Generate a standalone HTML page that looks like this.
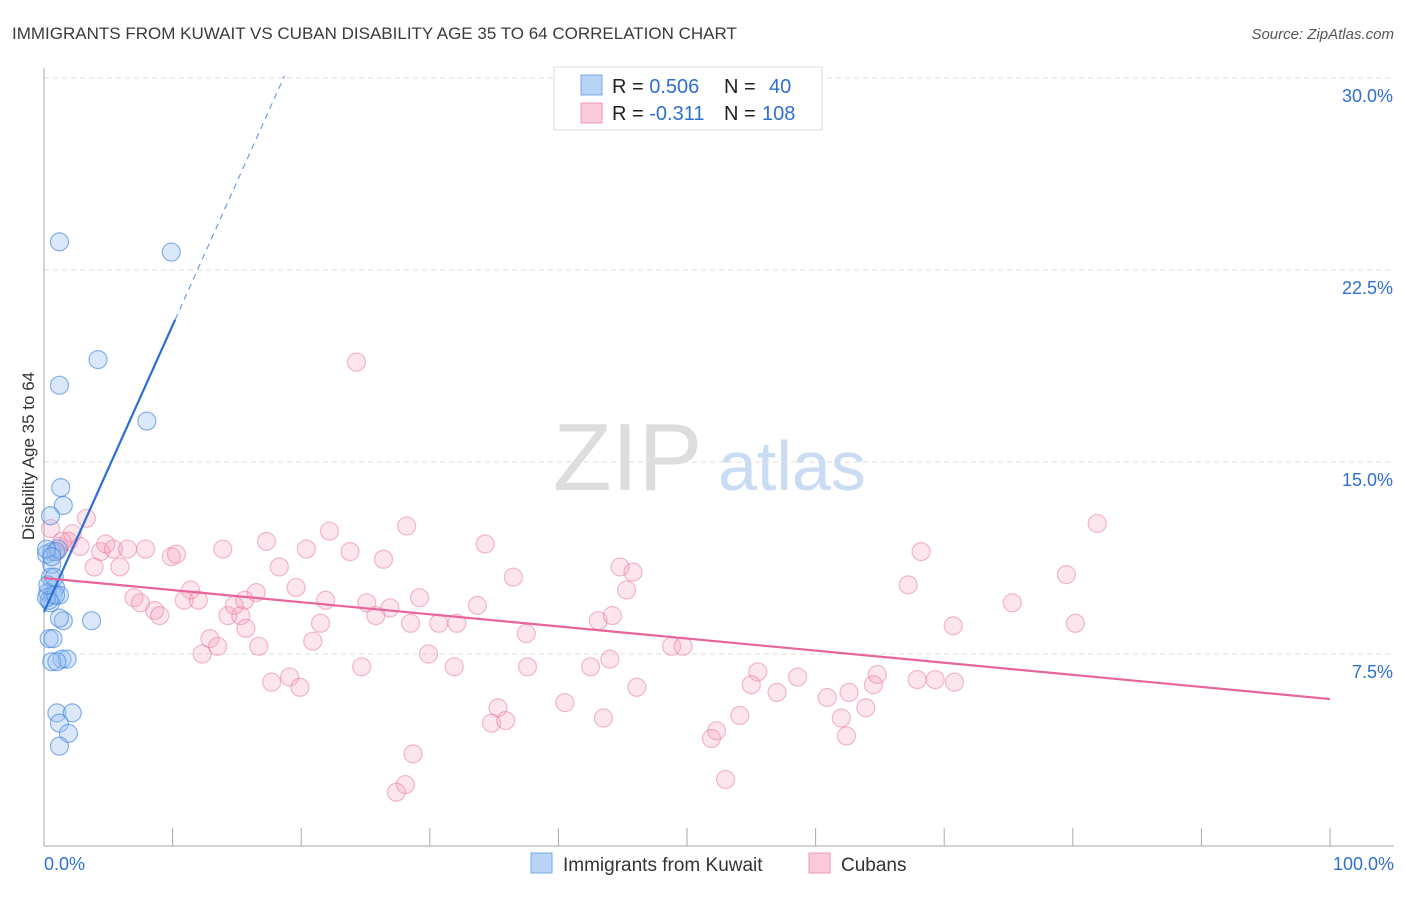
<!DOCTYPE html>
<html><head><meta charset="utf-8"><style>
body{margin:0;background:#fff;font-family:"Liberation Sans",sans-serif}
svg text{font-family:"Liberation Sans",sans-serif}
</style></head><body>
<svg id="c" width="1406" height="892" xmlns="http://www.w3.org/2000/svg">
<text x="12" y="39" font-size="17" fill="#3a3a3a">IMMIGRANTS FROM KUWAIT VS CUBAN DISABILITY AGE 35 TO 64 CORRELATION CHART</text>
<text x="1394" y="39" font-size="15" fill="#555" font-style="italic" text-anchor="end">Source: ZipAtlas.com</text>
<text x="34" y="456" font-size="17" fill="#333" text-anchor="middle" transform="rotate(-90 34 456)">Disability Age 35 to 64</text>
<g><text x="553" y="490" font-size="96" fill="#ddd" font-family="Liberation Serif,serif">ZIP</text><text x="718" y="490" font-size="70" fill="#c9dcf3">atlas</text></g>
<g id="grid"></g><g id="pts"></g><g id="lines"></g>
<g>
<rect x="554" y="67" width="268" height="63" fill="#fff" stroke="#ddd"/>
<rect x="581" y="75" width="21" height="20" fill="#b7d3f5" stroke="#7aa9e6"/>
<rect x="581" y="103" width="21" height="20" fill="#fbcad8" stroke="#ee9ab4"/>
<text x="612" y="93" font-size="20" fill="#222">R = <tspan fill="#2f6fd1">0.506</tspan><tspan x="724">N =</tspan><tspan x="769" fill="#2f6fd1">40</tspan></text>
<text x="612" y="120" font-size="20" fill="#222">R = <tspan fill="#2f6fd1">-0.311</tspan><tspan x="724">N =</tspan><tspan x="762" fill="#2f6fd1">108</tspan></text>
</g>
<g>
<rect x="531" y="853" width="21" height="20" fill="#b7d3f5" stroke="#7aa9e6"/>
<text x="563" y="871" font-size="19" fill="#333">Immigrants from Kuwait</text>
<rect x="809" y="853" width="21" height="20" fill="#fbcad8" stroke="#ee9ab4"/>
<text x="841" y="871" font-size="19" fill="#333">Cubans</text>
</g>
<text x="44" y="870" font-size="18" fill="#2f6fd1">0.0%</text>
<text x="1394" y="870" font-size="18" fill="#2f6fd1" text-anchor="end">100.0%</text>
</svg>
<script>
const yTicks=[7.5,15,22.5,30];
const yTickLabels=["7.5%","15.0%","22.5%","30.0%"];
const kuwaitX=[1.2,9.9,4.2,1.2,8.0,1.3,1.5,0.5,0.6,0.2,0.9,0.6,0.5,0.9,0.3,0.7,1.2,0.5,1.5,3.7,1.2,0.4,0.7,1.4,1.8,0.6,1.0,1.0,2.2,1.2,1.9,1.2,0.4,0.2,0.9,0.3,0.8,1.1,0.2,0.6];
const kuwaitY=[23.6,23.2,19.0,18.0,16.6,14.0,13.3,12.9,11.5,11.4,11.5,11.0,10.5,10.1,9.9,9.8,9.8,9.5,8.8,8.8,8.9,8.1,8.1,7.3,7.3,7.2,7.2,5.2,5.2,4.8,4.4,3.9,9.6,9.7,9.8,10.2,10.5,11.6,11.6,11.3];
const cubanX=[0.5,3.3,2.2,1.9,1.2,1.0,1.4,2.8,4.4,4.8,5.4,6.5,7.9,9.9,10.3,3.9,5.9,13.9,17.3,18.3,20.4,22.2,23.8,26.4,28.2,34.3,36.5,44.8,45.8,45.3,81.9,68.2,67.2,79.5,75.3,80.2,70.7,11.4,16.5,19.6,21.9,25.1,26.9,29.2,33.7,7.0,7.5,8.6,9.0,10.9,12.0,14.3,14.8,15.3,15.7,25.8,28.5,30.7,32.1,37.5,43.1,44.2,48.8,49.7,12.9,12.3,13.5,16.7,21.5,20.9,17.7,19.1,19.9,24.7,29.9,31.9,37.6,42.5,44.0,46.1,55.5,55.0,57.0,58.6,60.9,62.6,64.8,64.5,67.9,69.3,70.8,40.5,43.5,35.3,34.8,35.9,28.7,28.1,27.4,54.1,52.3,51.9,63.9,62.0,62.4,53.0,24.3,15.6];
const cubanY=[12.4,12.8,12.2,11.9,11.7,11.5,11.9,11.7,11.5,11.8,11.6,11.6,11.6,11.3,11.4,10.9,10.9,11.6,11.9,10.9,11.6,12.3,11.5,11.2,12.5,11.8,10.5,10.9,10.7,10.0,12.6,11.5,10.2,10.6,9.5,8.7,8.6,10.0,9.9,10.1,9.6,9.5,9.3,9.7,9.4,9.7,9.5,9.2,9.0,9.6,9.6,9.0,9.4,9.0,8.5,9.0,8.7,8.7,8.7,8.3,8.8,9.0,7.8,7.8,8.1,7.5,7.8,7.8,8.7,8.0,6.4,6.6,6.2,7.0,7.5,7.0,7.0,7.0,7.3,6.2,6.8,6.3,6.0,6.6,5.8,6.0,6.7,6.3,6.5,6.5,6.4,5.6,5.0,5.4,4.8,4.9,3.6,2.4,2.1,5.1,4.5,4.2,5.4,5.0,4.3,2.6,18.9,9.6];
const kuwaitTrend=[9.14,1.12];
const cubanTrend=[10.47,-0.0473];
const X=v=>44+v*12.86, Y=v=>846-v*25.6;
const NS="http://www.w3.org/2000/svg";
function mk(t,a,p){const e=document.createElementNS(NS,t);for(const k in a)e.setAttribute(k,a[k]);p.appendChild(e);return e;}
const grid=document.getElementById('grid'),pts=document.getElementById('pts'),lines=document.getElementById('lines');
yTicks.forEach((t,i)=>{
 const l=mk('line',{x1:44,x2:1394,y1:Y(t),y2:Y(t),stroke:'#ddd','stroke-dasharray':'5,4'},grid);
 
 
 const tx=mk('text',{x:1393,y:Y(t)+24,'font-size':18,fill:'#2f6fd1','text-anchor':'end'},grid);tx.textContent=yTickLabels[i];
 
 
});
const ax=mk('line',{x1:44,x2:44,y1:68,y2:846,stroke:'#aaa'},grid);


const bx=mk('line',{x1:44,x2:1394,y1:846,y2:846,stroke:'#aaa'},grid);


for(let i=0;i<=10;i++){const t=mk('line',{x1:X(i*10),x2:X(i*10),y1:828,y2:846,stroke:'#aaa'},grid);
 
 }
cubanX.forEach((x,i)=>{const c=mk('circle',{cx:X(x),cy:Y(cubanY[i]),r:9,fill:'rgba(246,160,188,0.28)',stroke:'rgba(232,120,156,0.5)','stroke-width':1.2},pts);
 
 });
kuwaitX.forEach((x,i)=>{const c=mk('circle',{cx:X(x),cy:Y(kuwaitY[i]),r:9,fill:'rgba(150,190,240,0.35)',stroke:'rgba(60,130,220,0.6)','stroke-width':1.2},pts);
 
 });
const kb=x=>kuwaitTrend[0]+kuwaitTrend[1]*x, cb=x=>cubanTrend[0]+cubanTrend[1]*x;
const l1=mk('line',{x1:X(0),y1:Y(kb(0)),x2:X(10.2),y2:Y(kb(10.2)),stroke:'#2b6fd6','stroke-width':2.2},lines);


const l2=mk('line',{x1:X(10.2),y1:Y(kb(10.2)),x2:X(18.7),y2:Y(kb(18.7)),stroke:'#6b9de0','stroke-width':1.2,'stroke-dasharray':'6,5'},lines);


const l3=mk('line',{x1:X(0),y1:Y(cb(0)),x2:X(100),y2:Y(cb(100)),stroke:'#e8649a','stroke-width':2.2},lines);


</script>
</body></html>
